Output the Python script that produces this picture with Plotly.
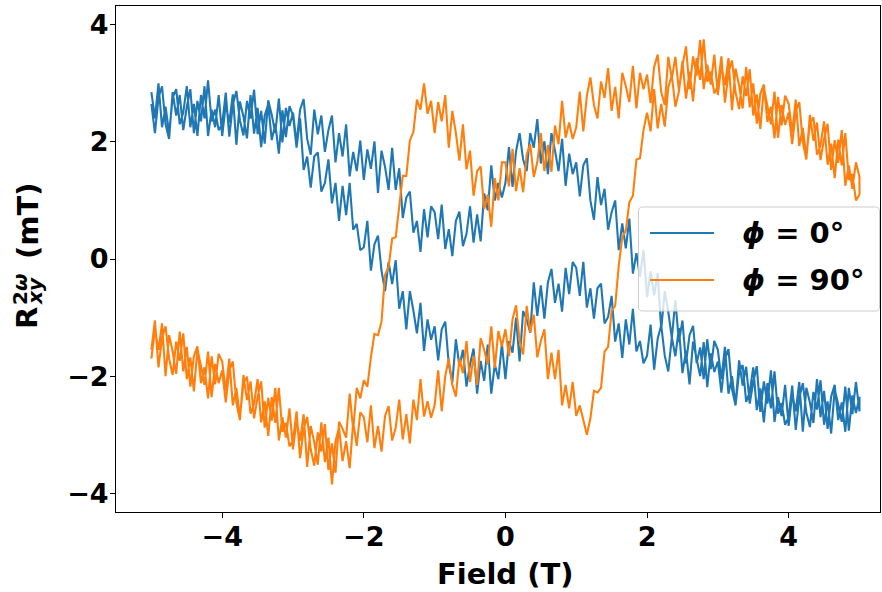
import numpy as np
import plotly.graph_objects as go

# ---------------- data (field sweep, T) ----------------
FIELD = [round(v, 2) for v in np.linspace(-5.0, 5.0, 201)]

# phi = 0 deg : branch A (upper in the middle) and branch B (lower in the middle), both in increasing field
BLUE_A = [
    2.85, 2.40, 3.00, 2.25, 2.60, 2.15, 2.75, 2.90, 2.30, 2.50, 2.95, 2.25, 2.65, 2.10, 2.80, 2.40, 3.05, 2.35, 2.55, 2.20,
    2.30, 2.84, 2.09, 2.63, 2.87, 2.37, 2.11, 2.70, 2.40, 2.89, 2.13, 2.53, 1.97, 2.71, 2.46, 2.15, 2.74, 1.99, 2.58, 2.27,
    2.50, 1.98, 2.55, 2.73, 2.05, 1.78, 2.55, 2.13, 2.45, 1.83, 2.20, 2.45, 1.65, 2.15, 1.75, 2.30, 1.41, 1.83, 1.50, 2.02,
    1.35, 1.87, 1.54, 2.01, 1.13, 1.85, 1.57, 1.18, 1.90, 1.18, 1.55, 0.70, 1.05, 1.15, 0.45, 0.65, 0.12, 0.85, 0.37, 0.90,
    0.80, 0.34, 0.93, 0.17, 0.51, 0.05, 0.65, 0.81, 0.22, 0.43, 0.90, 0.28, 0.76, 0.30, 1.12, 0.83, 1.60, 1.00, 1.30, 1.05,
    1.30, 1.91, 1.23, 1.84, 2.15, 1.70, 1.50, 2.15, 1.90, 2.39, 1.63, 2.01, 1.45, 2.15, 1.85, 1.50, 2.05, 1.25, 1.80, 1.45,
    1.65, 1.07, 1.60, 1.72, 1.00, 0.67, 1.40, 0.92, 1.20, 0.50, 0.80, 1.00, 0.15, 0.61, 0.18, 0.69, -0.25, 0.10, -0.30, 0.15,
    -0.65, -0.21, -0.62, -0.24, -1.20, -0.55, -0.90, -1.35, -0.70, -1.42, -1.05, -1.78, -1.30, -1.14, -1.78, -1.51, -2.05, -1.37, -1.88, -1.40,
    -1.55, -2.05, -1.50, -2.30, -2.00, -2.50, -1.93, -1.81, -2.44, -2.27, -1.85, -2.58, -2.21, -2.79, -2.12, -2.55, -1.92, -2.64, -2.46, -2.83,
    -2.70, -2.16, -2.92, -2.37, -2.12, -2.62, -2.87, -2.27, -2.57, -2.07, -2.83, -2.43, -2.98, -2.23, -2.48, -2.78, -2.18, -2.93, -2.33, -2.63,
    -2.35,
]
BLUE_B = [
    2.65, 2.15, 2.75, 2.95, 2.30, 2.05, 2.85, 2.45, 2.80, 2.20, 2.60, 2.90, 2.15, 2.70, 2.35, 2.95, 2.10, 2.55, 2.25, 2.80,
    2.10, 2.64, 2.33, 2.81, 1.95, 2.69, 2.43, 2.06, 2.80, 2.14, 2.58, 1.91, 2.45, 2.64, 2.03, 2.31, 1.80, 2.54, 2.08, 2.61,
    2.45, 1.90, 2.40, 1.52, 1.75, 1.22, 1.75, 1.82, 1.15, 1.30, 1.70, 0.95, 1.30, 0.65, 1.25, 0.75, 1.30, 0.50, 0.60, 0.15,
    0.20, 0.65, -0.20, 0.25, 0.40, -0.20, -0.55, -0.05, -0.43, -0.02, -0.85, -0.55, -1.20, -0.55, -0.88, -1.27, -0.75, -1.57, -1.03, -1.38,
    -1.15, -1.73, -1.20, -1.07, -1.80, -2.11, -1.37, -1.83, -1.55, -2.18, -1.80, -1.53, -2.30, -1.74, -2.08, -1.46, -2.30, -1.80, -2.05, -1.45,
    -2.05, -1.40, -1.60, -1.00, -1.75, -0.89, -1.03, -1.26, -0.40, -0.97, -0.45, -1.02, -0.40, -0.17, -0.75, -0.42, -0.90, -0.15, -0.60, -0.05,
    -0.15, -0.63, -0.05, -0.83, -0.50, -1.02, -0.50, -0.42, -1.10, -0.99, -0.63, -1.41, -1.10, -1.69, -1.03, -1.46, -0.85, -1.58, -1.40, -1.78,
    -1.65, -1.12, -1.89, -1.36, -1.13, -1.65, -1.92, -1.34, -1.66, -1.18, -1.95, -1.57, -2.14, -1.41, -1.68, -2.00, -1.42, -2.19, -1.61, -1.93,
    -1.75, -2.28, -1.71, -1.54, -2.22, -2.50, -1.73, -2.16, -1.84, -2.47, -2.10, -1.83, -2.61, -2.09, -2.47, -1.90, -2.78, -2.36, -2.68, -2.15,
    -2.85, -2.30, -2.60, -2.10, -2.95, -2.20, -2.45, -2.80, -2.05, -2.70, -2.25, -2.90, -2.35, -2.15, -2.75, -2.45, -2.95, -2.20, -2.65, -2.10,
    -2.60,
]

# phi = 90 deg : branch A (peak near -1.2 T) and branch B (dip near +1.2 T)
ORANGE_A = [
    -1.70, -1.20, -1.55, -1.10, -2.00, -1.30, -1.58, -1.96, -1.24, -1.92, -1.50, -2.18, -1.66, -1.49, -2.12, -1.85, -2.38, -1.66, -2.14, -1.62,
    -1.75, -2.25, -1.70, -2.50, -2.20, -2.70, -2.13, -2.01, -2.64, -2.47, -2.05, -2.79, -2.43, -3.02, -2.36, -2.80, -2.20, -2.95, -2.80, -3.20,
    -3.10, -2.60, -3.40, -2.90, -2.70, -3.25, -3.53, -2.96, -3.29, -2.82, -3.60, -3.15, -3.65, -2.78, -2.90, -3.05, -2.30, -2.92, -2.20, -2.38,
    -2.07, -2.18, -1.68, -1.28, -1.30, -1.07, -0.27, -0.14, 0.35, 0.37, 0.90, 1.42, 1.42, 2.02, 2.17, 2.72, 2.55, 3.00, 2.48, 2.70,
    2.15, 2.68, 2.35, 2.80, 1.90, 2.53, 2.15, 1.68, 2.30, 1.53, 1.85, 1.08, 1.50, 1.58, 0.85, 1.10, 0.55, 1.38, 1.00, 1.65,
    1.65, 1.24, 1.88, 1.16, 1.55, 1.14, 1.78, 1.96, 1.40, 1.65, 2.15, 1.50, 1.95, 1.49, 2.28, 1.96, 2.70, 2.07, 2.33, 2.05,
    2.25, 2.86, 2.18, 2.79, 3.10, 2.63, 2.40, 3.03, 2.75, 3.26, 2.53, 2.94, 2.40, 3.18, 2.95, 2.68, 3.30, 2.57, 3.18, 2.90,
    3.15, 2.66, 3.28, 3.49, 2.85, 2.63, 3.45, 3.08, 3.45, 2.88, 3.30, 3.63, 2.90, 3.46, 3.13, 3.74, 2.90, 3.32, 2.98, 3.49,
    2.80, 3.31, 2.97, 3.43, 2.54, 3.25, 2.96, 2.57, 3.28, 2.59, 3.00, 2.31, 2.82, 2.98, 2.34, 2.60, 2.06, 2.77, 2.28, 2.79,
    2.65, 2.16, 2.72, 1.93, 2.24, 1.75, 2.31, 2.42, 1.78, 1.94, 2.35, 1.61, 1.97, 1.38, 2.04, 1.60, 2.15, 1.35, 1.45, 1.00,
    1.10,
]
ORANGE_B = [
    -1.55, -1.05, -1.85, -1.35, -1.15, -1.70, -1.98, -1.41, -1.74, -1.27, -2.05, -1.68, -2.26, -1.54, -1.82, -2.15, -1.58, -2.36, -1.79, -2.12,
    -1.90, -2.45, -1.90, -1.75, -2.45, -2.75, -1.98, -2.41, -2.09, -2.72, -2.35, -2.09, -2.88, -2.37, -2.76, -2.20, -3.10, -2.70, -3.05, -2.55,
    -3.25, -2.75, -3.10, -2.65, -3.55, -2.85, -3.13, -3.51, -2.79, -3.47, -3.05, -3.85, -3.11, -2.88, -3.45, -3.11, -3.57, -2.78, -3.19, -2.62,
    -2.70, -3.13, -2.50, -3.23, -2.85, -3.29, -2.68, -2.51, -3.10, -2.88, -2.40, -3.08, -2.65, -3.15, -2.40, -2.75, -2.05, -2.69, -2.43, -2.71,
    -2.50, -1.90, -2.60, -2.00, -1.70, -2.15, -2.35, -1.70, -1.95, -1.40, -2.10, -1.65, -2.15, -1.35, -1.55, -1.80, -1.15, -1.86, -1.23, -1.49,
    -1.20, -1.66, -1.03, -0.79, -1.40, -1.63, -0.80, -1.25, -0.95, -1.68, -1.40, -1.20, -2.05, -1.60, -2.05, -1.55, -2.50, -2.15, -2.55, -2.10,
    -2.68, -2.50, -2.75, -3.00, -2.72, -2.25, -2.28, -2.20, -1.58, -1.50, -0.88, -0.80, -0.12, 0.38, 0.48, 0.97, 1.08, 1.70, 1.72, 2.20,
    2.50, 2.18, 2.90, 2.23, 2.65, 2.26, 2.93, 3.14, 2.60, 2.86, 3.38, 2.74, 3.20, 2.69, 3.43, 3.06, 3.75, 3.03, 3.20, 2.83,
    2.95, 3.46, 2.67, 3.18, 3.39, 2.85, 2.56, 3.12, 2.78, 3.24, 2.45, 2.81, 2.22, 2.93, 2.64, 2.30, 2.86, 2.07, 2.63, 2.29,
    2.50, 1.96, 2.52, 2.68, 1.99, 1.70, 2.46, 2.02, 2.33, 1.69, 2.05, 2.31, 1.52, 2.03, 1.64, 2.20, 1.25, 1.60, 1.20, 1.65,
    1.40,
]

SERIES_NAMES = ["\u03d5 = 0°", "\u03d5 = 90°"]
COLORS = ["#1f77b4", "#ff7f0e"]
Y_TICKS = [-4, -2, 0, 2, 4]
X_TICKS = [-4, -2, 0, 2, 4]

# ---------------- figure ----------------
W, H = 882, 592
AX_L, AX_R, AX_T, AX_B = 116, 880, 6, 512  # plot area in pixels
ML, MR, MT, MB = AX_L, W - AX_R, AX_T, H - AX_B
PW, PH = AX_R - AX_L, AX_B - AX_T


def px2paper(px, py):
    return (px - AX_L) / PW, (AX_B - py) / PH


FONT = "DejaVu Sans"
fig = go.Figure()

loops = [(BLUE_A, BLUE_B), (ORANGE_A, ORANGE_B)]
for (a, b), name, col in zip(loops, SERIES_NAMES, COLORS):
    fig.add_trace(go.Scatter(
        x=FIELD + FIELD[::-1],
        y=a + b[::-1],
        mode="lines",
        name=name,
        line=dict(color=col, width=2.1),
        showlegend=False,
    ))


def fmt(v):
    return ("\u2212" + str(abs(v))) if v < 0 else str(v)


axis_common = dict(
    showgrid=False, zeroline=False, showline=True, linecolor="black", linewidth=1,
    mirror=True, ticks="outside", ticklen=5, tickwidth=1, tickcolor="black",
    tickfont=dict(family=FONT, size=27, color="black", weight="bold"),
    automargin=False,
)
fig.update_xaxes(range=[-5.5, 5.29], tickvals=X_TICKS, ticktext=[fmt(v) for v in X_TICKS],
                 ticklabelstandoff=-4, **axis_common)
fig.update_yaxes(range=[-4.32, 4.32], tickvals=Y_TICKS, ticktext=[fmt(v) for v in Y_TICKS],
                 ticklabelstandoff=-4, **axis_common)

annotations = []


def ann(text, px, py, size, angle=0, xanchor="center", yanchor="middle"):
    x, y = px2paper(px, py)
    annotations.append(dict(
        text=text, x=x, y=y, xref="paper", yref="paper", showarrow=False,
        textangle=angle, xanchor=xanchor, yanchor=yanchor,
        font=dict(family=FONT, size=size, color="black"),
    ))


# x-axis title
ann("<b>Field (T)</b>", 505, 574, 29)
# y-axis title: R_xy^{2w} (mT), stacked sub/superscript
ann("<b>R</b>", 27, 318, 29, angle=-90)
ann("<b>2<i>ω</i></b>", 20, 290, 20, angle=-90)
ann("<b><i>xy</i></b>", 35, 291, 20, angle=-90)
ann("<b>(mT)</b>", 28, 221, 29, angle=-90)

# legend (drawn by hand to match the reference box)
lx0, lx1, ly0, ly1, r = 638.5, 879.5, 207.0, 311.0, 4.0


def P(px, py):
    x, y = px2paper(px, py)
    return f"{x:.5f},{y:.5f}"


path = (f"M {P(lx0 + r, ly0)} L {P(lx1 - r, ly0)} Q {P(lx1, ly0)} {P(lx1, ly0 + r)} "
        f"L {P(lx1, ly1 - r)} Q {P(lx1, ly1)} {P(lx1 - r, ly1)} "
        f"L {P(lx0 + r, ly1)} Q {P(lx0, ly1)} {P(lx0, ly1 - r)} "
        f"L {P(lx0, ly0 + r)} Q {P(lx0, ly0)} {P(lx0 + r, ly0)} Z")
shapes = [dict(type="path", path=path, xref="paper", yref="paper",
               fillcolor="rgba(255,255,255,0.8)", line=dict(color="#cccccc", width=1), layer="above")]
rows_py = [233, 280]
for name, col, py in zip(SERIES_NAMES, COLORS, rows_py):
    x0, y0 = px2paper(650, py)
    x1, _ = px2paper(714, py)
    shapes.append(dict(type="line", xref="paper", yref="paper", x0=x0, x1=x1, y0=y0, y1=y0,
                       line=dict(color=col, width=2.1), layer="above"))
    ann("<b><i>" + name[0] + "</i>" + name[1:] + "</b>", 740, py, 29, xanchor="left")

fig.update_layout(
    width=W, height=H,
    margin=dict(l=ML, r=MR, t=MT, b=MB, pad=0, autoexpand=False),
    paper_bgcolor="white", plot_bgcolor="white",
    showlegend=False,
    annotations=annotations,
    shapes=shapes,
)

# place the figure at the page origin (no default body margin / scrollbars), no mode bar
fig.write_html(
    "out.html",
    config={"displayModeBar": False},
    post_script="document.body.style.margin='0px';document.body.style.overflow='hidden';",
)
